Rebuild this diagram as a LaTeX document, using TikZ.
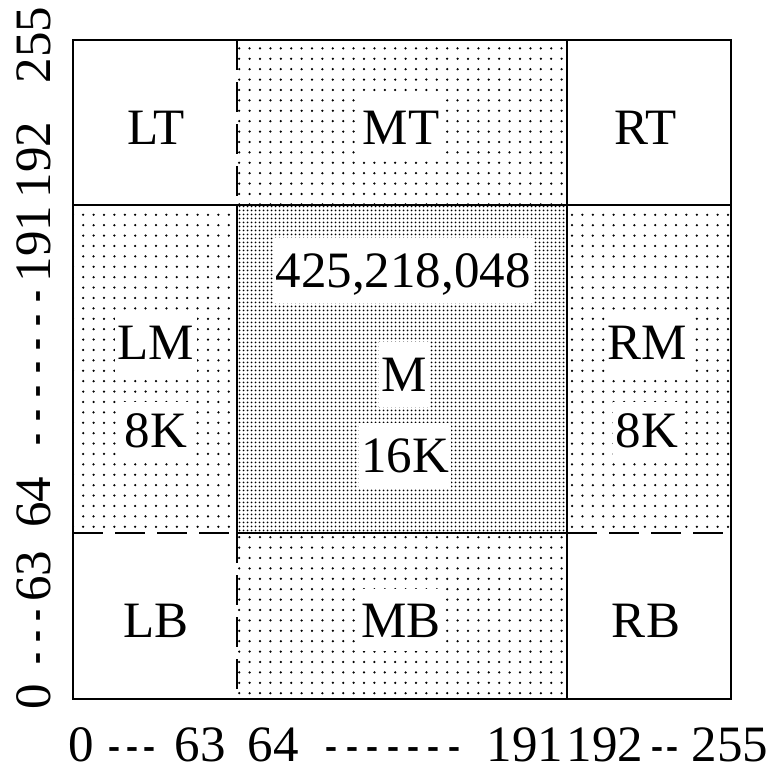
\documentclass[tikz,border=0pt]{standalone}
\usepackage{fontspec}
\setmainfont{Liberation Serif}
\usetikzlibrary{patterns.meta}
\newcommand{\bigfont}{\fontsize{51}{51}\selectfont}
\newcommand{\hy}{\scalebox{0.7}[1]{-}}
\begin{document}
\begin{tikzpicture}[x=1pt,y=-1pt,
  sparse/.style={pattern={Dots[distance=10.4pt,radius=1.25pt]}},
  dense/.style={pattern={Dots[distance=4pt,radius=1.2pt]}},
  solidline/.style={line width=2.2pt},
  dashline/.style={line width=2.4pt,dash pattern=on 30pt off 12pt},
  lbl/.style={fill=white,inner xsep=2.5pt,inner ysep=0pt,text height=34pt,text depth=0pt,minimum height=62pt,font=\bigfont},
  axlbl/.style={inner sep=0pt,anchor=base,font=\bigfont},
  vaxlbl/.style={inner sep=0pt,anchor=base,rotate=90,font=\bigfont}]
\useasboundingbox (0,0) rectangle (774,766);
% fills
\fill[sparse] (237,40) rectangle (567,205);
\fill[sparse] (73,205) rectangle (237,533);
\fill[sparse] (567,205) rectangle (731,533);
\fill[sparse] (237,533) rectangle (567,699);
\fill[dense] (237,205) rectangle (567,533);
% solid lines
\draw[solidline] (73,40) rectangle (731,699);
\draw[solidline] (73,205) -- (731,205);
\draw[solidline] (237,205) -- (237,533);
\draw[solidline] (567,40) -- (567,699);
\draw[solidline] (237,533) -- (567,533);
% dashed lines
\draw[dashline] (237,40) -- (237,205);
\draw[dashline] (237,533) -- (237,699);
\draw[dashline] (73,533) -- (237,533);
\draw[dashline] (567,533) -- (731,533);
% region labels
\node[lbl] (lt) at (156,127) {LT};
\node[lbl] (mt) at (401,127) {MT};
\node[lbl] (rt) at (646,127) {RT};
\node[lbl] (lm) at (156,342) {LM};
\node[lbl,minimum height=56pt] (lmk) at (156,430) {8K};
\node[lbl,minimum height=65pt] (num) at (403,270) {425,218,048};
\node[lbl,minimum height=65pt] (m) at (404,374) {M};
\node[lbl,minimum height=65pt] (mk) at (405,455) {16K};
\node[lbl] (rm) at (647,342) {RM};
\node[lbl,minimum height=56pt] (rmk) at (647,430) {8K};
\node[lbl] (lb) at (156,620) {LB};
\node[lbl] (mb) at (401,620) {MB};
\node[lbl] (rb) at (646,620) {RB};
% bottom axis labels
\node[axlbl] (b0) at (81,761) {0};
\node[axlbl] (bd1) at (132,761) {\hy\kern6pt\hy\kern6pt\hy};
\node[axlbl] (b63) at (200,761) {63};
\node[axlbl] (b64) at (273,761) {64};
\node[axlbl] (bd2) at (393,761) {\hy\kern8.5pt\hy\kern8.5pt\hy\kern8.5pt\hy\kern8.5pt\hy\kern8.5pt\hy\kern8.5pt\hy};
\node[axlbl] (b191) at (525,761) {191};
\node[axlbl] (b192) at (605,761) {192};
\node[axlbl] (bd3) at (665,761) {\hy\kern3pt\hy};
\node[axlbl] (b255) at (730,761) {255};
% left axis labels
\node[vaxlbl] (l0) at (50,697) {0};
\node[vaxlbl] (ld1) at (50,637) {\hy\kern10pt\hy\kern10pt\hy};
\node[vaxlbl] (l63) at (50,576) {63};
\node[vaxlbl] (l64) at (50,502) {64};
\node[vaxlbl] (ld2) at (50,368) {\hy\kern12pt\hy\kern12pt\hy\kern12pt\hy\kern12pt\hy\kern12pt\hy\kern12pt\hy};
\node[vaxlbl] (l191) at (50,244) {191};
\node[vaxlbl] (l192) at (50,160) {192};
\node[vaxlbl] (l255) at (50,45) {255};
\end{tikzpicture}
\end{document}
